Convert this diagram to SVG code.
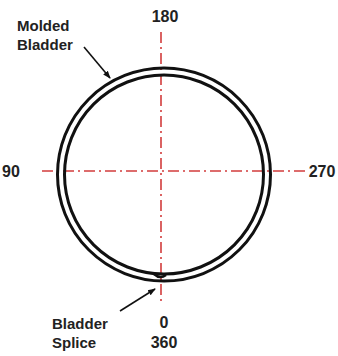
<svg xmlns="http://www.w3.org/2000/svg" width="338" height="356" viewBox="0 0 338 356">
<style>
.lbl{font-family:"Liberation Sans",Arial,sans-serif;font-weight:bold;fill:#222;}
.num{font-size:16px;text-anchor:middle;}
.nm{font-size:15px;}
.axis{stroke:#d23c3c;stroke-width:1.6;fill:none;stroke-dasharray:11 4 2 4;}
.ring{stroke:#111;stroke-width:3;fill:none;}
.lead{stroke:#111;stroke-width:1.6;fill:none;marker-end:url(#ah);}
</style>
<defs>
<marker id="ah" markerWidth="8" markerHeight="8" refX="7" refY="4" orient="auto" markerUnits="userSpaceOnUse">
<path d="M0,1 L8,4 L0,7 z" fill="#111"/>
</marker>
</defs>
<rect width="338" height="356" fill="#fff"/>
<g id="axes">
<line class="axis" x1="161" y1="32" x2="161" y2="305"/>
<line class="axis" x1="42" y1="171" x2="306" y2="171"/>
</g>
<g id="bladder">
<circle class="ring" cx="164" cy="174.5" r="106.5"/>
<circle class="ring" cx="164" cy="174.5" r="99.5"/>
<path d="M154,274 Q160,279.5 166,275" stroke="#111" stroke-width="2.5" fill="none"/>
</g>
<g id="connectors">
<line class="lead" x1="84" y1="47" x2="110" y2="78"/>
<line class="lead" x1="120" y1="311" x2="155" y2="289"/>
</g>
<g id="label-180"><text class="lbl num" x="165" y="22">180</text></g>
<g id="label-90"><text class="lbl num" x="11" y="177">90</text></g>
<g id="label-270"><text class="lbl num" x="322" y="177">270</text></g>
<g id="label-0"><text class="lbl num" x="164" y="328">0</text></g>
<g id="label-360"><text class="lbl num" x="164" y="348">360</text></g>
<g id="molded-bladder"><text class="lbl nm" x="17" y="31">Molded</text><text class="lbl nm" x="17" y="50">Bladder</text></g>
<g id="bladder-splice"><text class="lbl nm" x="52" y="329">Bladder</text><text class="lbl nm" x="52" y="348">Splice</text></g>
</svg>
